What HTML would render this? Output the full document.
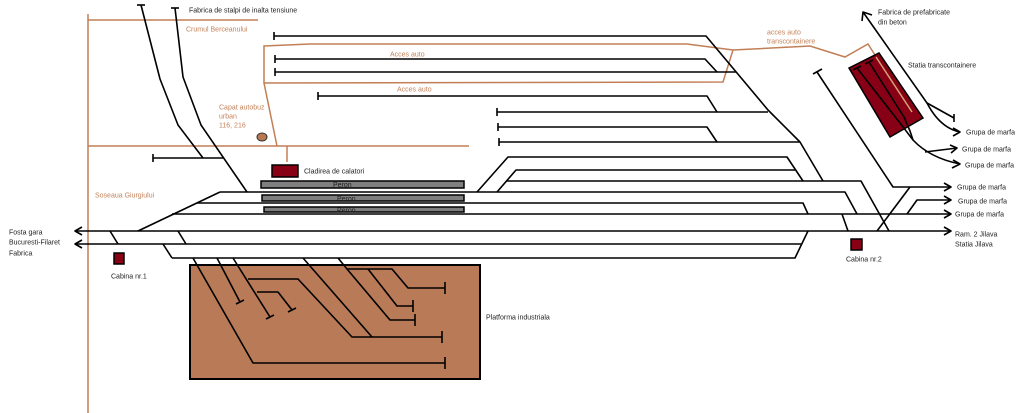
<!DOCTYPE html>
<html><head><meta charset="utf-8"><style>
html,body{margin:0;padding:0;background:#fff;}
svg{display:block;}
text{font-family:"Liberation Sans",sans-serif;font-size:7px;fill:#1e1e1e;}
.o{fill:#c4825a;}
</style></head><body>
<svg width="1024" height="413" viewBox="0 0 1024 413" xmlns="http://www.w3.org/2000/svg">
<!-- brown industrial platform -->
<rect x="190" y="265" width="290" height="114" fill="#b97a57" stroke="#000" stroke-width="2"/>

<!-- orange roads -->
<g stroke="#c27f56" stroke-width="1.5" fill="none">
<path d="M88,14 L88,413"/>
<path d="M88,20 L258,20"/>
<path d="M88,146 L469,146"/>
<path d="M264,46 L310,44 L687,44 L733,50 L723,82 L264,83 Z"/>
<path d="M733,50 L810,46 L845,57 L868,44 L875,55"/>
<path d="M264,83 L277,146"/>
<path d="M287,146 L287,162"/>
</g>
<ellipse cx="262" cy="137" rx="5" ry="4" fill="#b9784f" stroke="#333" stroke-width="1"/>

<!-- buildings / platforms -->
<rect x="272" y="165" width="26" height="12" fill="#880015" stroke="#000" stroke-width="1.5"/>
<rect x="261" y="181" width="203" height="7" fill="#7f7f7f" stroke="#000" stroke-width="1.5"/>
<rect x="262" y="195" width="202" height="6" fill="#7f7f7f" stroke="#000" stroke-width="1.5"/>
<rect x="264" y="207" width="200" height="5" fill="#7f7f7f" stroke="#000" stroke-width="1.5"/>
<rect x="114" y="253" width="10" height="11" fill="#880015" stroke="#000" stroke-width="1.5"/>
<rect x="851" y="239" width="11" height="11" fill="#880015" stroke="#000" stroke-width="1.5"/>

<!-- container station -->
<polygon points="849,68 879,53 923,118 890,137" fill="#880015" stroke="#000" stroke-width="1.5"/>
<path d="M876,57 L912,112" stroke="#d2a273" stroke-width="1.5" fill="none"/>

<!-- tracks -->
<g stroke="#000" stroke-width="1.6" fill="none" stroke-linejoin="round">
<!-- fabrica stalpi -->
<path d="M141,5 L160,79 L178,125 L203,158"/>
<path d="M137,5 L145,5"/>
<path d="M175,8 L183,77 L201,125 L247,192"/>
<path d="M171,8 L179,8"/>
<path d="M153,158 L223,158"/><path d="M153,154 L153,162"/>

<!-- upper yard -->
<path d="M274,36 L706,36 L768,110 L800,142 L823,181"/><path d="M274,32 L274,40"/>
<path d="M275,59 L705,59 L717,72"/><path d="M275,55 L275,63"/>
<path d="M275,72 L736,72"/><path d="M275,68 L275,76"/>
<path d="M318,96 L707,96 L717,112"/><path d="M318,92 L318,100"/>
<path d="M497,112 L768,112"/><path d="M497,108 L497,116"/>
<path d="M498,127 L707,127 L717,142"/><path d="M498,123 L498,131"/>
<path d="M499,142 L800,142"/><path d="M499,138 L499,146"/>
<path d="M477,192 L508,157 L787,157 L803,181"/>
<path d="M497,192 L516,170 L795,170"/>
<path d="M506,181 L861,181 L889,231"/>

<!-- main lines -->
<path d="M220,192 L138,231"/>
<path d="M220,192 L845,192 L857,214"/>
<path d="M197,203 L803,203 L808,214"/>
<path d="M172,214 L950,214"/>
<path d="M75,231 L950,231"/>
<path d="M75,244 L801,244"/>
<path d="M172,258 L795,258 L808,231"/>
<path d="M110,231 L118,244"/>
<path d="M178,231 L186,244"/>
<path d="M163,244 L172,258"/>
<path d="M842,214 L848,231"/>
<path d="M877,231 L910,187"/>
<path d="M907,214 L917,200 L950,200"/>
<path d="M817,72 L893,187 L950,187"/><path d="M813,74 L822,69"/>

<!-- arrows -->
<path d="M82,227 L75,231 L82,235"/>
<path d="M82,240 L75,244 L82,248"/>
<path d="M944,183 L951,187 L944,191"/>
<path d="M944,196 L951,200 L944,204"/>
<path d="M944,210 L951,214 L944,218"/>
<path d="M944,227 L951,231 L944,235"/>

<!-- container area lines -->
<path d="M863,12 L927,103 L954,118"/><path d="M954,114 L954,122"/>
<path d="M862,21 L863,12 L872,15"/>
<path d="M927,103 Q940,128 960,132"/>
<path d="M953,128 L960,132 L953,136"/>
<path d="M857,68 L900,123 L913,140 Q930,158 960,164"/><path d="M853,70 L861,66"/>
<path d="M869,62 L904,117 L910,131 L913,140"/><path d="M865,64 L873,60"/>
<path d="M925,152 L957,148"/>
<path d="M950,145 L957,148 L951,153"/>
<path d="M953,160 L960,164 L952,168"/>

<!-- industrial platform sidings -->
<path d="M193,258 L253,363 L445,363"/><path d="M445,357 L445,369"/>
<path d="M217,258 L240,302"/><path d="M236,304 L244,300"/>
<path d="M233,258 L270,317"/><path d="M266,319 L274,315"/>
<path d="M248,279 L298,279 L352,337 L442,337"/><path d="M442,331 L442,343"/>
<path d="M257,292 L278,292 L292,310"/><path d="M288,312 L296,308"/>
<path d="M303,258 L372,337"/>
<path d="M338,258 L347,269 L392,269 L408,288 L445,288"/><path d="M445,282 L445,294"/>
<path d="M347,269 L390,320 L415,320"/><path d="M415,314 L415,326"/>
<path d="M368,269 L397,306 L413,306"/><path d="M413,300 L413,312"/>
</g>

<!-- labels -->
<text x="189" y="12.5">Fabrica de stalpi de inalta tensiune</text>
<text class="o" x="186" y="31.5">Crumul Berceanului</text>
<text class="o" x="219" y="109.5">Capat autobuz</text>
<text class="o" x="219" y="118.5">urban</text>
<text class="o" x="219" y="127.5">116, 216</text>
<text class="o" x="390" y="56.5">Acces auto</text>
<text class="o" x="397" y="91.5">Acces auto</text>
<text x="304" y="173.5">Cladirea de calatori</text>
<text x="333" y="187">Peron</text>
<text x="337" y="201">Peron</text>
<text x="337" y="212.5">Peron</text>
<text class="o" x="95" y="197.5">Soseaua Giurgiului</text>
<text x="9" y="234.5">Fosta gara</text>
<text x="9" y="244.5">Bucuresti-Filaret</text>
<text x="9" y="255.5">Fabrica</text>
<text x="111" y="278.5">Cabina nr.1</text>
<text x="486" y="319.5">Platforma industriala</text>
<text x="846" y="261.5">Cabina nr.2</text>
<text x="955" y="236.5">Ram. 2 Jilava</text>
<text x="955" y="246.5">Statia Jilava</text>
<text x="957" y="189.5">Grupa de marfa</text>
<text x="958" y="203.5">Grupa de marfa</text>
<text x="955" y="216.5">Grupa de marfa</text>
<text x="966" y="134.5">Grupa de marfa</text>
<text x="962" y="151.5">Grupa de marfa</text>
<text x="965" y="167.5">Grupa de marfa</text>
<text x="908" y="67.5">Statia transcontainere</text>
<text x="878" y="14.5">Fabrica de prefabricate</text>
<text x="878" y="24.5">din beton</text>
<text class="o" x="767" y="34.5">acces auto</text>
<text class="o" x="767" y="43.5">transcontainere</text>
</svg>
</body></html>
